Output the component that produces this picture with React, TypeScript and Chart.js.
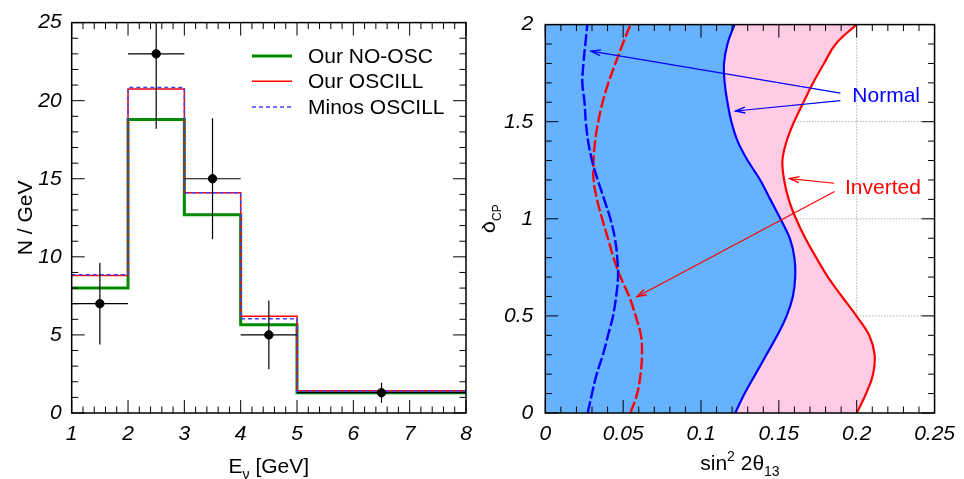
import React, { useEffect, useRef } from 'react';
import { Chart, registerables } from 'chart.js';

Chart.register(...registerables);

const FONT = "'Liberation Sans', Arial, Helvetica, sans-serif";

// ---------- Left panel: energy spectrum ----------
const binEdges = [1, 2, 3, 4, 5, 8];
const ourNoOsc = [8.0, 18.8, 12.7, 5.65, 1.3];
const ourOscill = [8.8, 20.75, 14.1, 6.2, 1.42];
const minosOscill = [8.85, 20.85, 14.1, 6.03, 1.4];
const dataEnergy = [1.5, 2.5, 3.5, 4.5, 6.5];
const dataCounts = [7.0, 23.0, 15.0, 5.0, 1.3];
const dataEnergyErr = [0.5, 0.5, 0.5, 0.5, 1.5];
const dataCountErr = [2.62, 4.8, 3.88, 2.2, 0.64];
const legendLabels = ['Our NO-OSC', 'Our OSCILL', 'Minos OSCILL'];

// ---------- Right panel: allowed regions ----------
const deltaCP = [0, 0.1, 0.2, 0.3, 0.4, 0.5, 0.6, 0.7, 0.8, 0.9, 1.0, 1.1, 1.2, 1.3, 1.4, 1.5, 1.6, 1.7, 1.8, 1.9, 2.0];
const normalOuter = [0.122, 0.128, 0.135, 0.142, 0.149, 0.155, 0.159, 0.1605, 0.16, 0.157, 0.151, 0.1445, 0.138, 0.13, 0.1235, 0.1195, 0.117, 0.1152, 0.1148, 0.117, 0.1215];
const invertedOuter = [0.2, 0.206, 0.2105, 0.2115, 0.208, 0.1998, 0.1905, 0.1815, 0.174, 0.167, 0.161, 0.1563, 0.1534, 0.1523, 0.155, 0.1598, 0.1658, 0.172, 0.179, 0.1865, 0.1998];
const normalInner = [0.0272, 0.03, 0.033, 0.037, 0.0403, 0.0435, 0.0455, 0.0467, 0.0462, 0.0447, 0.0418, 0.0378, 0.0337, 0.03, 0.0275, 0.026, 0.0252, 0.0238, 0.0245, 0.0257, 0.027];
const invertedInner = [0.0547, 0.059, 0.0612, 0.0621, 0.0614, 0.058, 0.0539, 0.0483, 0.0438, 0.0402, 0.0365, 0.0332, 0.031, 0.031, 0.032, 0.034, 0.0368, 0.0405, 0.045, 0.0497, 0.0547];

const annotationText = ['Normal', 'Inverted'];
const annotationColor = ['#0000ff', '#ff0000'];
const annotationAt = [[0.1972, 1.599], [0.1925, 1.127]];
// [fromX, fromY, toX, toY] in data units
const normalArrows = [[0.1895, 1.647, 0.0294, 1.863], [0.1895, 1.609, 0.1222, 1.555]];
const invertedArrows = [[0.1855, 1.183, 0.157, 1.207], [0.1858, 1.141, 0.0589, 0.599]];

type Run = { t: string; size: number; dy: number };

function drawRuns(ctx: CanvasRenderingContext2D, runs: Run[], x: number, y: number, color = '#000') {
  let total = 0;
  for (const r of runs) {
    ctx.font = `${r.size}px ${FONT}`;
    total += ctx.measureText(r.t).width;
  }
  let cx = x - total / 2;
  ctx.fillStyle = color;
  ctx.textAlign = 'left';
  ctx.textBaseline = 'alphabetic';
  for (const r of runs) {
    ctx.font = `${r.size}px ${FONT}`;
    ctx.fillText(r.t, cx, y + r.dy);
    cx += ctx.measureText(r.t).width;
  }
}

function drawFrameTicks(chart: any, xMinor: number, xMajor: number, yMinor: number, yMajor: number) {
  const { ctx, chartArea: a, scales } = chart;
  const x = scales.x;
  const y = scales.y;
  ctx.save();
  ctx.strokeStyle = '#000';
  ctx.lineWidth = 1;
  ctx.beginPath();
  const nx = Math.round((x.max - x.min) / xMinor);
  for (let i = 0; i <= nx; i++) {
    const v = x.min + i * xMinor;
    const r = v / xMajor;
    const major = Math.abs(r - Math.round(r)) < 1e-6;
    const len = major ? 13 : 6.5;
    const px = x.getPixelForValue(v);
    ctx.moveTo(px, a.bottom);
    ctx.lineTo(px, a.bottom - len);
    ctx.moveTo(px, a.top);
    ctx.lineTo(px, a.top + len);
  }
  const ny = Math.round((y.max - y.min) / yMinor);
  for (let i = 0; i <= ny; i++) {
    const v = y.min + i * yMinor;
    const r = v / yMajor;
    const major = Math.abs(r - Math.round(r)) < 1e-6;
    const len = major ? 13 : 6.5;
    const py = y.getPixelForValue(v);
    ctx.moveTo(a.left, py);
    ctx.lineTo(a.left + len, py);
    ctx.moveTo(a.right, py);
    ctx.lineTo(a.right - len, py);
  }
  ctx.stroke();
  ctx.lineWidth = 1.5;
  ctx.strokeRect(a.left, a.top, a.right - a.left, a.bottom - a.top);
  ctx.restore();
}

function arrow(ctx: CanvasRenderingContext2D, x1: number, y1: number, x2: number, y2: number, color: string) {
  ctx.save();
  ctx.strokeStyle = color;
  ctx.lineWidth = 1.2;
  ctx.beginPath();
  ctx.moveTo(x1, y1);
  ctx.lineTo(x2, y2);
  ctx.stroke();
  const ang = Math.atan2(y2 - y1, x2 - x1);
  const L = 10;
  const w = 0.3;
  ctx.lineWidth = 1.4;
  ctx.beginPath();
  ctx.moveTo(x2 - L * Math.cos(ang - w), y2 - L * Math.sin(ang - w));
  ctx.lineTo(x2, y2);
  ctx.lineTo(x2 - L * Math.cos(ang + w), y2 - L * Math.sin(ang + w));
  ctx.stroke();
  ctx.restore();
}

const tickFont = { family: FONT, size: 21, style: 'italic' as const };
const fmt = (v: number) => String(Math.round(v * 1000) / 1000);

function histPoints(vals: number[]) {
  return binEdges.map((x, i) => ({ x, y: vals[Math.min(i, vals.length - 1)] }));
}

function leftConfig(): any {
  const colors = ['#008a00', '#ff0000', '#4040ff'];
  return {
    type: 'line',
    data: {
      datasets: [
        {
          label: 'Data',
          data: dataEnergy.map((x, i) => ({ x, y: dataCounts[i] })),
          showLine: false,
          pointRadius: 4.2,
          pointBackgroundColor: '#000',
          pointBorderColor: '#000',
        },
        {
          label: legendLabels[2],
          data: histPoints(minosOscill),
          stepped: 'before',
          borderColor: colors[2],
          borderWidth: 1.5,
          borderDash: [4, 3],
          pointRadius: 0,
          fill: false,
        },
        {
          label: legendLabels[1],
          data: histPoints(ourOscill),
          stepped: 'before',
          borderColor: colors[1],
          borderWidth: 1.5,
          pointRadius: 0,
          fill: false,
        },
        {
          label: legendLabels[0],
          data: histPoints(ourNoOsc),
          stepped: 'before',
          borderColor: colors[0],
          borderWidth: 3,
          pointRadius: 0,
          fill: false,
        },
      ],
    },
    options: {
      responsive: false,
      animation: false,
      events: [],
      layout: { padding: { top: 19, right: 16, left: 0, bottom: 0 } },
      plugins: { legend: { display: false }, tooltip: { enabled: false } },
      scales: {
        x: {
          type: 'linear',
          min: 1,
          max: 8,
          grid: { display: false, drawTicks: false },
          border: { display: false },
          ticks: { stepSize: 1, font: tickFont, color: '#000', padding: 9, maxRotation: 0, autoSkip: false, callback: fmt },
          afterFit: (s: any) => { s.height = 66; },
        },
        y: {
          type: 'linear',
          min: 0,
          max: 25,
          grid: { display: false, drawTicks: false },
          border: { display: false },
          ticks: { stepSize: 5, font: tickFont, color: '#000', padding: 10, autoSkip: false, callback: fmt },
          afterFit: (s: any) => { s.width = 71.7; },
        },
      },
    },
    plugins: [
      {
        id: 'leftDecor',
        afterDatasetsDraw(chart: any) {
          const { ctx, chartArea: a, scales: { x, y } } = chart;
          ctx.save();
          ctx.beginPath();
          ctx.rect(a.left, a.top, a.right - a.left, a.bottom - a.top);
          ctx.clip();
          ctx.strokeStyle = '#000';
          ctx.lineWidth = 1.2;
          ctx.beginPath();
          dataEnergy.forEach((e, i) => {
            const px = x.getPixelForValue(e);
            const py = y.getPixelForValue(dataCounts[i]);
            ctx.moveTo(x.getPixelForValue(e - dataEnergyErr[i]), py);
            ctx.lineTo(x.getPixelForValue(e + dataEnergyErr[i]), py);
            ctx.moveTo(px, y.getPixelForValue(dataCounts[i] - dataCountErr[i]));
            ctx.lineTo(px, y.getPixelForValue(dataCounts[i] + dataCountErr[i]));
          });
          ctx.stroke();
          ctx.restore();
          // legend
          const rows = [3, 2, 1];
          const rowY = [33.3, 58.7, 84.3];
          ctx.save();
          rows.forEach((di, k) => {
            const ds = chart.data.datasets[di];
            const yy = a.top + rowY[k];
            ctx.strokeStyle = ds.borderColor;
            ctx.lineWidth = ds.borderWidth;
            ctx.setLineDash(ds.borderDash || []);
            ctx.beginPath();
            ctx.moveTo(a.left + 180.3, yy);
            ctx.lineTo(a.left + 220.3, yy);
            ctx.stroke();
            ctx.setLineDash([]);
            ctx.fillStyle = '#000';
            ctx.font = `21px ${FONT}`;
            ctx.textAlign = 'left';
            ctx.textBaseline = 'middle';
            ctx.fillText(ds.label, a.left + 236.3, yy + 1);
          });
          ctx.restore();
        },
        afterDraw(chart: any) {
          drawFrameTicks(chart, 0.2, 1, 1, 5);
          const { ctx, chartArea: a } = chart;
          ctx.save();
          drawRuns(ctx, [
            { t: 'E', size: 21, dy: 0 },
            { t: 'ν', size: 14, dy: 6 },
            { t: ' [GeV]', size: 21, dy: 0 },
          ], (a.left + a.right) / 2, 473);
          ctx.translate(a.left - 40, (a.top + a.bottom) / 2);
          ctx.rotate(-Math.PI / 2);
          drawRuns(ctx, [{ t: 'N / GeV', size: 21, dy: 0 }], 0, 0);
          ctx.restore();
        },
      },
    ],
  };
}

function curve(vals: number[]) {
  return vals.map((v, i) => ({ x: v, y: deltaCP[i] }));
}

function rightConfig(): any {
  return {
    type: 'line',
    data: {
      datasets: [
        {
          label: 'Normal (inner)',
          data: curve(normalInner),
          borderColor: '#0000ff',
          borderWidth: 2.4,
          borderDash: [12, 3],
          pointRadius: 0,
          tension: 0.4,
          fill: false,
        },
        {
          label: 'Inverted (inner)',
          data: curve(invertedInner),
          borderColor: '#ff0000',
          borderWidth: 2.4,
          borderDash: [12, 3],
          pointRadius: 0,
          tension: 0.4,
          fill: false,
        },
        {
          label: 'Normal',
          data: curve(normalOuter),
          borderColor: '#0000ff',
          backgroundColor: '#66b2ff',
          borderWidth: 2.2,
          pointRadius: 0,
          tension: 0.4,
          fill: { value: 0 },
        },
        {
          label: 'Inverted',
          data: curve(invertedOuter),
          borderColor: '#ff0000',
          backgroundColor: '#ffcce6',
          borderWidth: 2.2,
          pointRadius: 0,
          tension: 0.4,
          fill: { value: 0 },
        },
      ],
    },
    options: {
      responsive: false,
      animation: false,
      events: [],
      indexAxis: 'y',
      layout: { padding: { top: 19, right: 23.7, left: 0, bottom: 0 } },
      plugins: { legend: { display: false }, tooltip: { enabled: false } },
      scales: {
        x: {
          type: 'linear',
          min: 0,
          max: 0.25,
          grid: { display: false, drawTicks: false },
          border: { display: false },
          ticks: { stepSize: 0.05, font: tickFont, color: '#000', padding: 9, maxRotation: 0, autoSkip: false, callback: fmt },
          afterFit: (s: any) => { s.height = 66; },
        },
        y: {
          type: 'linear',
          min: 0,
          max: 2,
          grid: { display: false, drawTicks: false },
          border: { display: false },
          ticks: { stepSize: 0.5, font: tickFont, color: '#000', padding: 12, autoSkip: false, callback: fmt },
          afterFit: (s: any) => { s.width = 63.3; },
        },
      },
    },
    plugins: [
      {
        id: 'rightDecor',
        beforeDatasetsDraw(chart: any) {
          const { ctx, chartArea: a, scales: { x, y } } = chart;
          ctx.save();
          ctx.strokeStyle = '#888';
          ctx.lineWidth = 1;
          ctx.setLineDash([1, 2]);
          ctx.beginPath();
          for (let i = 1; i < 5; i++) {
            const px = x.getPixelForValue(i * 0.05);
            ctx.moveTo(px, a.top);
            ctx.lineTo(px, a.bottom);
          }
          for (let i = 1; i < 4; i++) {
            const py = y.getPixelForValue(i * 0.5);
            ctx.moveTo(a.left, py);
            ctx.lineTo(a.right, py);
          }
          ctx.stroke();
          ctx.restore();
        },
        afterDatasetsDraw(chart: any) {
          const { ctx, scales: { x, y } } = chart;
          const groups = [normalArrows, invertedArrows];
          groups.forEach((arrs, g) => {
            arrs.forEach(([fx, fy, tx, ty]) => {
              arrow(ctx, x.getPixelForValue(fx), y.getPixelForValue(fy), x.getPixelForValue(tx), y.getPixelForValue(ty), annotationColor[g]);
            });
            ctx.save();
            ctx.fillStyle = annotationColor[g];
            ctx.font = `21px ${FONT}`;
            ctx.textAlign = 'left';
            ctx.textBaseline = 'alphabetic';
            ctx.fillText(annotationText[g], x.getPixelForValue(annotationAt[g][0]), y.getPixelForValue(annotationAt[g][1]));
            ctx.restore();
          });
        },
        afterDraw(chart: any) {
          drawFrameTicks(chart, 0.01, 0.05, 0.1, 0.5);
          const { ctx, chartArea: a } = chart;
          ctx.save();
          drawRuns(ctx, [
            { t: 'sin', size: 21, dy: 0 },
            { t: '2', size: 14, dy: -9 },
            { t: ' 2θ', size: 21, dy: 0 },
            { t: '13', size: 14, dy: 6 },
          ], (a.left + a.right) / 2, 470);
          ctx.translate(a.left - 50, (a.top + a.bottom) / 2);
          ctx.rotate(-Math.PI / 2);
          drawRuns(ctx, [
            { t: 'δ', size: 22, dy: 0 },
            { t: 'CP', size: 12, dy: 6 },
          ], 0, 0);
          ctx.restore();
        },
      },
    ],
  };
}

export default function App() {
  const leftRef = useRef<HTMLCanvasElement>(null);
  const rightRef = useRef<HTMLCanvasElement>(null);
  useEffect(() => {
    document.body.style.margin = '0';
    const left = new Chart(leftRef.current as HTMLCanvasElement, leftConfig());
    const right = new Chart(rightRef.current as HTMLCanvasElement, rightConfig());
    return () => {
      left.destroy();
      right.destroy();
    };
  }, []);
  return (
    <div style={{ position: 'fixed', left: 0, top: 0, width: 964, height: 479, background: '#fff' }}>
      <canvas ref={leftRef} width={482} height={479} style={{ position: 'absolute', left: 0, top: 0, width: 482, height: 479 }} />
      <canvas ref={rightRef} width={482} height={479} style={{ position: 'absolute', left: 482, top: 0, width: 482, height: 479 }} />
    </div>
  );
}
